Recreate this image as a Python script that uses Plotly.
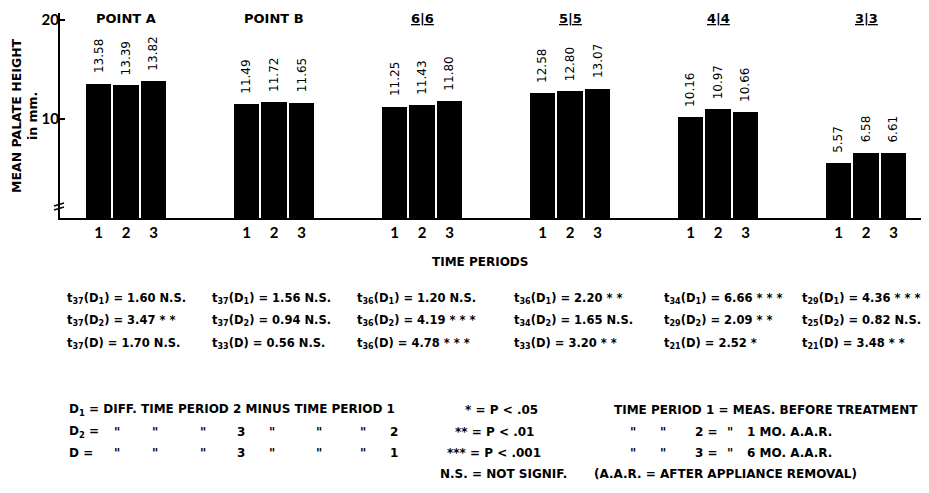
import plotly.graph_objects as go

# ---------------- data ----------------
groups = ["POINT A", "POINT B", "<u>6|6</u>", "<u>5|5</u>", "<u>4|4</u>", "<u>3|3</u>"]
periods = ["1", "2", "3"]
period1 = [13.58, 11.49, 11.25, 12.58, 10.16, 5.57]
period2 = [13.39, 11.72, 11.43, 12.80, 10.97, 6.58]
period3 = [13.82, 11.65, 11.80, 13.07, 10.66, 6.61]
y_ticks = [10, 20]

# t-tests (degrees of freedom, t value, significance) per group
df_D1 = [37, 37, 36, 36, 34, 29]
t_D1 = [1.60, 1.56, 1.20, 2.20, 6.66, 4.36]
sig_D1 = ["N.S.", "N.S.", "N.S.", "* *", "* * *", "* * *"]
df_D2 = [37, 37, 36, 34, 29, 25]
t_D2 = [3.47, 0.94, 4.19, 1.65, 2.09, 0.82]
sig_D2 = ["* *", "N.S.", "* * *", "N.S.", "* *", "N.S."]
df_D = [37, 33, 36, 33, 21, 21]
t_D = [1.70, 0.56, 4.78, 3.20, 2.52, 3.48]
sig_D = ["N.S.", "N.S.", "* * *", "* *", "*", "* *"]

# ---------------- layout helpers ----------------
OFF = 8                     # browser body margin
FW, FH = 929 - OFF, 493 - OFF
L, R, T = 60 - OFF, 0, 13 - OFF
PLOT_BOTTOM = 218 - OFF
B = FH - PLOT_BOTTOM
PW, PH = FW - L - R, FH - T - B
YMAX = 20.7
PITCH = 27.5            # px per bar slot
GAP = 148 / PITCH       # group spacing in bar slots
X0 = -(126 - 60) / PITCH
X1 = X0 + PW / PITCH


def px(x):  # reference-page pixel -> paper
    return (x - 60) / PW


def py(y):
    return (218 - y) / PH


FONT = "Lato"
KFONT = "DejaVu Sans"
BLACK = "#000000"

series = [period1, period2, period3]
fig = go.Figure()
tickvals, ticktext = [], []
annotations = []
for p, vals in enumerate(series):
    xs = [g * GAP + (p - 1) for g in range(len(groups))]
    fig.add_trace(go.Bar(x=xs, y=vals, width=0.91, marker=dict(color=BLACK, line=dict(width=0)),
                         showlegend=False, hoverinfo="y"))
    tickvals += xs
    ticktext += [periods[p]] * len(xs)
    for x, v in zip(xs, vals):
        annotations.append(dict(x=x, y=v, xref="x", yref="y", text=f"{v:.2f}", textangle=-90,
                                showarrow=False, yanchor="bottom", xanchor="center", yshift=8,
                                font=dict(family=KFONT, size=12, color=BLACK)))

# group titles
for g, name in enumerate(groups):
    annotations.append(dict(x=g * GAP, y=py(18), xref="x", yref="paper", text=name, showarrow=False,
                            xanchor="center", yanchor="middle",
                            font=dict(family=KFONT, size=13, color=BLACK, weight="bold")))

# axis titles
annotations.append(dict(x=px(24), y=py(116), xref="paper", yref="paper",
                        text="MEAN PALATE HEIGHT<br>in mm.", textangle=-90, showarrow=False,
                        xanchor="center", yanchor="middle",
                        font=dict(family=KFONT, size=12.5, color=BLACK, weight="bold")))
annotations.append(dict(x=px(480), y=py(262), xref="paper", yref="paper", text="TIME PERIODS",
                        showarrow=False, xanchor="center", yanchor="middle",
                        font=dict(family=KFONT, size=12, color=BLACK, weight="bold")))

# t-test table
col_x = [65, 210, 355, 512, 662, 800]
row_y = [298, 320, 343]
rows = [("D<sub>1</sub>", df_D1, t_D1, sig_D1), ("D<sub>2</sub>", df_D2, t_D2, sig_D2), ("D", df_D, t_D, sig_D)]
for (lab, dfs, ts, sigs), yy in zip(rows, row_y):
    for i, xx in enumerate(col_x):
        txt = f"t<sub>{dfs[i]}</sub>({lab}) = {ts[i]:.2f} {sigs[i]}"
        annotations.append(dict(x=px(xx), y=py(yy), xref="paper", yref="paper", text=txt, showarrow=False,
                                xanchor="left", yanchor="middle",
                                font=dict(family=KFONT, size=11.5, color=BLACK, weight="bold")))

# legend / key text
key_font = dict(family=KFONT, size=12, color=BLACK, weight="bold")
DIT = '"'
key_items = [
    (67, 410, "D<sub>1</sub> = DIFF. TIME PERIOD 2 MINUS TIME PERIOD 1"),
    (67, 432, "D<sub>2</sub> ="), (67, 453, "D ="),
    (463, 410, "* = P &lt; .05"), (453, 432, "** = P &lt; .01"), (445, 453, "*** = P &lt; .001"),
    (438, 474, "N.S. = NOT SIGNIF."),
    (612, 410, "TIME PERIOD 1 = MEAS. BEFORE TREATMENT"),
    (693, 432, "2 ="), (693, 453, "3 ="),
    (745, 432, "1 MO. A.A.R."), (745, 453, "6 MO. A.A.R."),
    (592, 474, "(A.A.R. = AFTER APPLIANCE REMOVAL)"),
    (235, 432, "3"), (235, 453, "3"), (388, 432, "2"), (388, 453, "1"),
]
for xx in [112, 150, 198, 267, 314, 358]:
    key_items += [(xx, 432, DIT), (xx, 453, DIT)]
for xx in [628, 658, 725]:
    key_items += [(xx, 432, DIT), (xx, 453, DIT)]
for xx, yy, txt in key_items:
    annotations.append(dict(x=px(xx), y=py(yy), xref="paper", yref="paper", text=txt, showarrow=False,
                            xanchor="left", yanchor="middle", font=key_font))

# axis break mark on y axis
shapes = [
    dict(type="line", xref="paper", yref="paper", x0=px(54), x1=px(64), y0=py(206), y1=py(203),
         line=dict(color=BLACK, width=1.5)),
    dict(type="line", xref="paper", yref="paper", x0=px(54), x1=px(64), y0=py(210), y1=py(207),
         line=dict(color=BLACK, width=1.5)),
]

fig.update_layout(
    width=FW, height=FH, autosize=False,
    margin=dict(l=L, r=R, t=T, b=B, pad=0),
    plot_bgcolor="white", paper_bgcolor="white",
    bargap=0, showlegend=False,
    annotations=annotations, shapes=shapes,
    font=dict(family=FONT, color=BLACK),
    xaxis=dict(range=[X0, X1], tickvals=tickvals, ticktext=ticktext, showline=True, linecolor=BLACK,
               linewidth=2, ticks="", showgrid=False, zeroline=False,
               tickfont=dict(family=FONT, size=15, color=BLACK, weight="bold")),
    yaxis=dict(range=[0, YMAX], tickvals=y_ticks, ticktext=[str(v) for v in y_ticks], showline=True,
               linecolor=BLACK, linewidth=2, ticks="inside", ticklen=5, tickwidth=1.5, tickcolor=BLACK,
               showgrid=False, zeroline=False, ticklabelstandoff=-4,
               tickfont=dict(family=FONT, size=15, color=BLACK, weight="bold")),
)

fig.write_html("out.html")
